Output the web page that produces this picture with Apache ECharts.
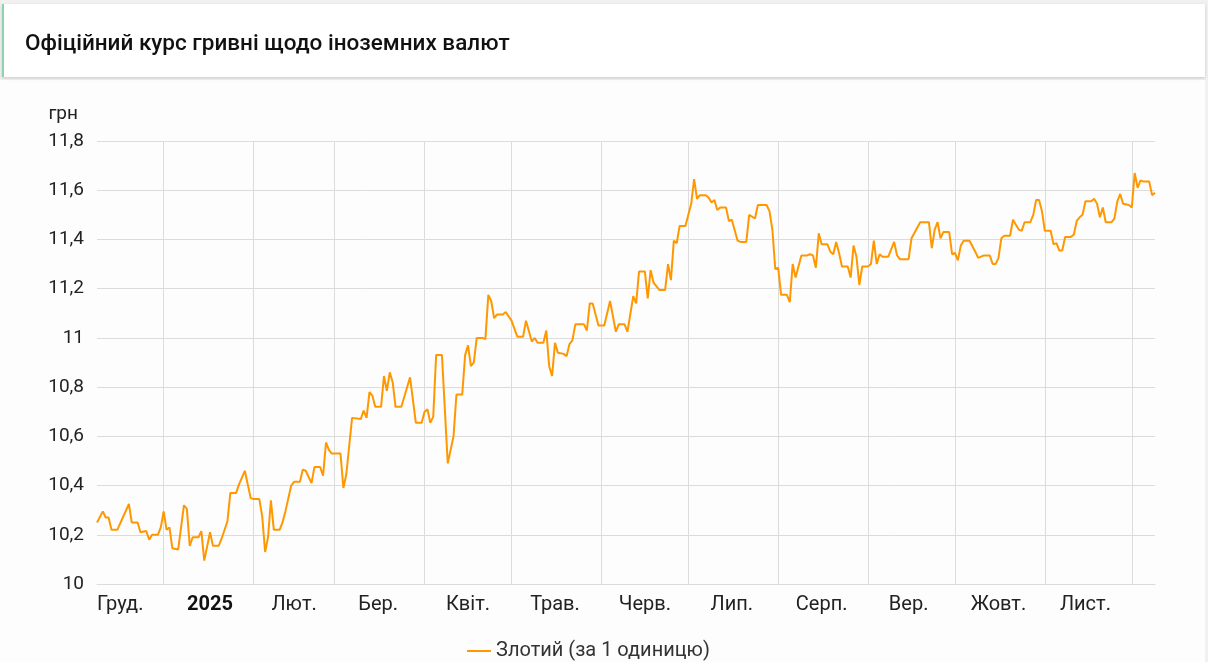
<!DOCTYPE html>
<html>
<head>
<meta charset="utf-8">
<script src="https://cdn.jsdelivr.net/npm/echarts@6/dist/echarts.min.js"></script>
<style>
  html, body { margin:0; padding:0; width:1208px; height:662px; overflow:hidden; background:#f2f1f0; font-family: Roboto, "Noto Sans", sans-serif; }
  #panel { position:absolute; left:0; top:80px; width:1205px; height:582px; background:#fdfdfd; }
  #header { position:absolute; left:2px; top:4px; width:1201px; height:73px; background:#fff; border-left:2px solid #8ed3b1;
            box-shadow:0 1px 3px rgba(0,0,0,0.18); z-index:3; }
  #header h1 { margin:0; position:absolute; left:21px; top:0; line-height:76px; font-size:22.5px; font-weight:500; color:#111; letter-spacing:0; }
  #chart { position:absolute; left:0; top:0; width:1208px; height:662px; z-index:2; }
</style>
</head>
<body>
<div id="panel"></div>
<div id="header"><h1>Офіційний курс гривні щодо іноземних валют</h1></div>
<div id="chart"></div>
<script>
// ---- data ----
const seriesName = 'Злотий (за 1 одиницю)';
const dates = [
 '2024-12-09','2024-12-11','2024-12-12','2024-12-13','2024-12-14','2024-12-16','2024-12-20','2024-12-21','2024-12-23','2024-12-24',
 '2024-12-26','2024-12-27','2024-12-28','2024-12-30','2024-12-31','2025-01-01','2025-01-02','2025-01-03','2025-01-04','2025-01-06',
 '2025-01-08','2025-01-09','2025-01-10','2025-01-11','2025-01-13','2025-01-14','2025-01-15','2025-01-17','2025-01-18','2025-01-20',
 '2025-01-21','2025-01-23','2025-01-24','2025-01-26','2025-01-27','2025-01-29','2025-01-31','2025-02-01','2025-02-03','2025-02-04',
 '2025-02-05','2025-02-06','2025-02-07','2025-02-08','2025-02-10','2025-02-11','2025-02-12','2025-02-14','2025-02-15','2025-02-17',
 '2025-02-18','2025-02-19','2025-02-21','2025-02-22','2025-02-24','2025-02-25','2025-02-26','2025-02-27','2025-02-28','2025-03-03',
 '2025-03-04','2025-03-05','2025-03-07','2025-03-10','2025-03-11','2025-03-12','2025-03-13','2025-03-14','2025-03-15','2025-03-17',
 '2025-03-18','2025-03-19','2025-03-20','2025-03-21','2025-03-22','2025-03-24','2025-03-27','2025-03-29','2025-03-31','2025-04-01',
 '2025-04-02','2025-04-03','2025-04-04','2025-04-05','2025-04-07','2025-04-09','2025-04-10','2025-04-11','2025-04-12','2025-04-14',
 '2025-04-15','2025-04-16','2025-04-17','2025-04-18','2025-04-19','2025-04-21','2025-04-22','2025-04-23','2025-04-24','2025-04-25',
 '2025-04-26','2025-04-28','2025-04-29','2025-05-01','2025-05-03','2025-05-05','2025-05-06','2025-05-08','2025-05-09','2025-05-10',
 '2025-05-12','2025-05-13','2025-05-14','2025-05-15','2025-05-16','2025-05-17','2025-05-19','2025-05-20','2025-05-21','2025-05-22',
 '2025-05-23','2025-05-26','2025-05-27','2025-05-28','2025-05-29','2025-05-31','2025-06-02','2025-06-04','2025-06-06','2025-06-07',
 '2025-06-09','2025-06-10','2025-06-12','2025-06-13','2025-06-14','2025-06-16','2025-06-17','2025-06-18','2025-06-19','2025-06-21',
 '2025-06-23','2025-06-24','2025-06-25','2025-06-26','2025-06-27','2025-06-28','2025-06-30','2025-07-01','2025-07-02','2025-07-03',
 '2025-07-04','2025-07-05','2025-07-07','2025-07-08','2025-07-09','2025-07-10','2025-07-11','2025-07-12','2025-07-14','2025-07-15',
 '2025-07-16','2025-07-18','2025-07-19','2025-07-21','2025-07-22','2025-07-24','2025-07-25','2025-07-28','2025-07-29','2025-07-30',
 '2025-07-31','2025-08-01','2025-08-02','2025-08-04','2025-08-05','2025-08-06','2025-08-07','2025-08-09','2025-08-11','2025-08-12',
 '2025-08-13','2025-08-14','2025-08-15','2025-08-16','2025-08-18','2025-08-19','2025-08-20','2025-08-21','2025-08-22','2025-08-23',
 '2025-08-25','2025-08-26','2025-08-27','2025-08-28','2025-08-29','2025-08-30','2025-09-01','2025-09-02','2025-09-03','2025-09-04',
 '2025-09-05','2025-09-06','2025-09-08','2025-09-10','2025-09-11','2025-09-12','2025-09-15','2025-09-16','2025-09-19','2025-09-22',
 '2025-09-23','2025-09-24','2025-09-25','2025-09-26','2025-09-27','2025-09-29','2025-09-30','2025-10-01','2025-10-02','2025-10-03',
 '2025-10-04','2025-10-06','2025-10-08','2025-10-09','2025-10-11','2025-10-13','2025-10-14','2025-10-15','2025-10-16','2025-10-17',
 '2025-10-18','2025-10-20','2025-10-21','2025-10-22','2025-10-23','2025-10-24','2025-10-25','2025-10-27','2025-10-28','2025-10-29',
 '2025-10-30','2025-10-31','2025-11-01','2025-11-03','2025-11-04','2025-11-05','2025-11-06','2025-11-07','2025-11-08','2025-11-10',
 '2025-11-11','2025-11-12','2025-11-13','2025-11-14','2025-11-15','2025-11-17','2025-11-18','2025-11-19','2025-11-20','2025-11-21',
 '2025-11-22','2025-11-24','2025-11-25','2025-11-26','2025-11-27','2025-11-28','2025-11-30','2025-12-01','2025-12-02','2025-12-03',
 '2025-12-04','2025-12-05','2025-12-07','2025-12-08','2025-12-09'
];
const values = [
 10.25,10.295,10.27,10.27,10.22,10.22,10.325,10.25,10.25,10.21,
 10.215,10.18,10.20,10.20,10.23,10.295,10.22,10.23,10.145,10.14,
 10.32,10.305,10.155,10.19,10.19,10.215,10.095,10.21,10.155,10.155,
 10.185,10.255,10.37,10.37,10.405,10.46,10.35,10.345,10.345,10.275,
 10.13,10.19,10.34,10.22,10.22,10.25,10.295,10.40,10.415,10.415,
 10.465,10.46,10.41,10.475,10.475,10.44,10.575,10.545,10.53,10.53,
 10.39,10.445,10.675,10.67,10.705,10.675,10.78,10.765,10.72,10.72,
 10.845,10.785,10.86,10.82,10.72,10.72,10.84,10.655,10.655,10.70,
 10.71,10.655,10.68,10.93,10.93,10.49,10.545,10.60,10.77,10.77,
 10.93,10.97,10.885,10.90,11.0,11.0,10.995,11.175,11.15,11.08,
 11.095,11.095,11.105,11.07,11.005,11.005,11.07,10.985,11.0,10.98,
 10.98,11.03,10.885,10.845,10.98,10.94,10.935,10.925,10.975,10.99,
 11.055,11.055,11.03,11.14,11.14,11.05,11.05,11.15,11.025,11.055,
 11.055,11.025,11.17,11.14,11.27,11.27,11.16,11.275,11.225,11.195,
 11.195,11.30,11.235,11.395,11.385,11.455,11.455,11.50,11.545,11.645,
 11.565,11.58,11.58,11.57,11.55,11.56,11.52,11.53,11.53,11.475,
 11.48,11.395,11.39,11.39,11.50,11.485,11.54,11.54,11.515,11.44,
 11.28,11.285,11.175,11.175,11.145,11.30,11.245,11.335,11.335,11.34,
 11.335,11.285,11.425,11.38,11.38,11.35,11.34,11.39,11.345,11.29,
 11.29,11.245,11.375,11.33,11.215,11.29,11.29,11.30,11.395,11.30,
 11.34,11.33,11.33,11.39,11.335,11.32,11.32,11.405,11.47,11.47,
 11.365,11.44,11.47,11.405,11.43,11.43,11.34,11.345,11.315,11.375,
 11.395,11.395,11.35,11.325,11.335,11.335,11.30,11.30,11.325,11.405,
 11.415,11.415,11.48,11.46,11.44,11.435,11.47,11.47,11.50,11.56,
 11.56,11.515,11.435,11.435,11.38,11.385,11.355,11.355,11.41,11.41,
 11.42,11.475,11.49,11.50,11.555,11.555,11.565,11.545,11.49,11.53,
 11.47,11.47,11.485,11.555,11.585,11.545,11.54,11.53,11.67,11.61,
 11.64,11.635,11.635,11.58,11.59
];
// month label positions (mid-month) and names
const labelDates = ['2024-12-17','2025-01-17','2025-02-15','2025-03-16','2025-04-16','2025-05-16','2025-06-16','2025-07-16','2025-08-16','2025-09-15','2025-10-16','2025-11-15'];
const labelNames = ['Груд.','2025','Лют.','Бер.','Квіт.','Трав.','Черв.','Лип.','Серп.','Вер.','Жовт.','Лист.'];
// month boundary grid lines
const gridDates = ['2025-01-01','2025-02-01','2025-03-01','2025-04-01','2025-05-01','2025-06-01','2025-07-01','2025-08-01','2025-09-01','2025-10-01','2025-11-01','2025-12-01'];
const yTicks = [10, 10.2, 10.4, 10.6, 10.8, 11, 11.2, 11.4, 11.6, 11.8];

function ts(s) { const p = s.split('-').map(Number); return Date.UTC(p[0], p[1]-1, p[2]); }
const labelTs = labelDates.map(ts);
const gridTs = gridDates.map(ts);
const seriesData = dates.map((d, i) => [ts(d), values[i]]);

const chart = echarts.init(document.getElementById('chart'), null, { renderer: 'canvas' });
chart.setOption({
  backgroundColor: 'transparent',
  animation: false,
  textStyle: { fontFamily: 'Roboto, "Noto Sans", sans-serif' },
  grid: { left: 97, right: 53, top: 141, bottom: 78, containLabel: false },
  legend: {
    show: true, left: 467, top: 641, padding: 0, itemWidth: 24, itemHeight: 2, itemGap: 6,
    icon: 'rect',
    textStyle: { fontSize: 20, color: '#333' },
    data: [seriesName]
  },
  xAxis: {
    type: 'value',
    min: ts(dates[0]), max: ts(dates[dates.length - 1]),
    axisLine: { show: true, lineStyle: { color: '#dcdcdc', width: 1 } },
    axisTick: { show: false, customValues: gridTs },
    splitLine: { show: true, lineStyle: { color: '#dcdcdc', width: 1 } },
    axisLabel: {
      customValues: labelTs,
      margin: 11,
      fontSize: 20, color: '#222',
      formatter: function (v) {
        const i = labelTs.indexOf(v);
        const name = i >= 0 ? labelNames[i] : '';
        return name === '2025' ? '{b|' + name + '}' : name;
      },
      rich: { b: { fontSize: 20, fontWeight: 'bold', color: '#111' } }
    }
  },
  yAxis: {
    type: 'value', min: yTicks[0], max: yTicks[yTicks.length - 1], interval: 0.2,
    name: 'грн', nameLocation: 'end', nameGap: 17,
    nameTextStyle: { fontSize: 19, color: '#222', align: 'right', padding: [0, 19, 0, 0] },
    axisLine: { show: false }, axisTick: { show: false },
    splitLine: { show: true, lineStyle: { color: '#dcdcdc', width: 1 } },
    axisLabel: {
      fontSize: 19, color: '#222', margin: 13,
      formatter: function (v) { return String(Math.round(v * 10) / 10).replace('.', ','); }
    }
  },
  series: [{
    name: seriesName, type: 'line', data: seriesData,
    showSymbol: false, symbol: 'none',
    lineStyle: { color: '#ff9800', width: 2 },
    itemStyle: { color: '#ff9800' }
  }]
});
</script>
</body>
</html>
